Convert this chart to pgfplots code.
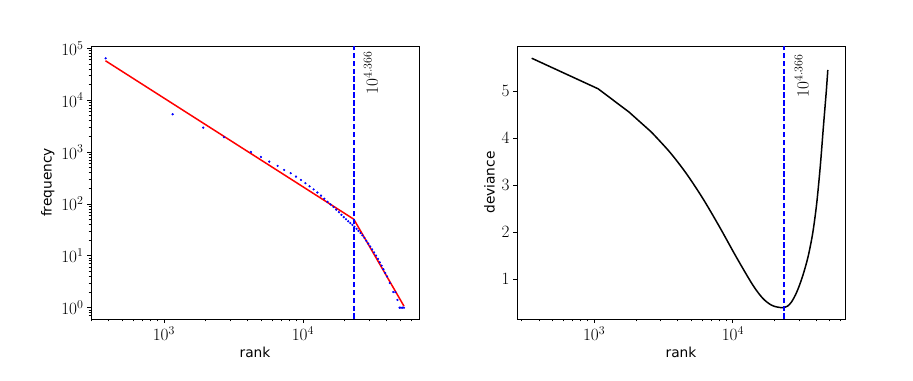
\documentclass[border=0pt]{standalone}
\usepackage{fontspec}
\newfontfamily\dejavu{DejaVu Sans}
\usepackage{pgfplots}
\pgfplotsset{compat=1.18}
\definecolor{vblue}{RGB}{0,0,255}
\definecolor{vred}{RGB}{255,0,0}

% rank vs frequency (sampled points)
\pgfplotstableread{
x y
381 64100
1156 5346
1919 2951
2704 1928
4227 1005
4989 805
5728 653
6577 540
7328 452
8166 391
8913 336
9683 290
10423 251.2
11169 218.8
11940 190.5
12706 166.0
13490 144.5
14256 125.9
15031 109.6
15812 97.7
16596 87.1
17378 77.6
18155 69.2
18923 61.7
19679 55.6
20417 50.7
21184 46.2
21928 42.7
22699 39.4
23496 36.3
24322 33.1
25119 30.2
25942 27.5
26792 24.8
27669 22.1
28576 19.5
29512 17.2
30479 15.1
31477 13.3
32509 11.6
33574 10.1
34674 8.71
35727 7.50
36813 6.46
37931 5.50
39084 4.68
40272 4.0
42170 3.0
44668 2.0
46238 2.0
47863 1.41
49545 1
50699 1
51880 1
53333 1
}\freqdata

% deviance, first part (with kinks)
\pgfplotstableread{
x y
355 5.70
1069 5.05
1786 4.555
2588 4.13
}\devdataA

% deviance, smooth part
\pgfplotstableread{
x y
2588 4.13
3508 3.706
4624 3.248
6081 2.718
8017 2.116
10570 1.479
13930 0.879
16440 0.597
18880 0.455
21000 0.41
22900 0.40
24800 0.43
26500 0.52
28300 0.67
30200 0.87
32500 1.15
35000 1.50
37670 1.98
40200 2.60
42700 3.40
45000 4.25
47200 5.00
48400 5.45
}\devdataB

\begin{document}
\begin{tikzpicture}
\path[use as bounding box] (0,0) rectangle (913bp,381bp);

\begin{axis}[scale only axis, width=328bp, height=273bp,
  at={(91bp,62bp)}, anchor=south west,
  xmode=log, ymode=log,
  xmin=299, xmax=68400,
  ymin=0.605, ymax=110700,
  axis line style={line width=0.8bp},
  tick align=outside,
  major tick length=4bp, minor tick length=2.5bp,
  every tick/.style={black, line width=0.7bp},
  xticklabel style={font=\fontsize{17}{19}\selectfont},
  yticklabel style={font=\fontsize{17}{19}\selectfont},
  xlabel style={font=\dejavu\fontsize{13.8}{16}\selectfont},
  ylabel style={font=\dejavu\fontsize{13.8}{16}\selectfont},
  xtick pos=bottom, ytick pos=left,
  xlabel={rank}, ylabel={frequency},
]
\addplot[only marks, mark=*, mark size=0.9bp, color=vblue, draw=none] table[x=x,y=y] {\freqdata};
\addplot[color=vred, line width=1.5bp, mark=none] coordinates {(380,57500) (23227,50.7) (53333,1.07)};
\addplot[color=vblue, line width=1.6bp, mark=none, dash pattern=on 5.5bp off 2.4bp] coordinates {(23227,0.605) (23227,110700)};
\node[rotate=90, anchor=north east, inner sep=0pt, font=\fontsize{17}{19}\selectfont]
  at ([xshift=10bp,yshift=-5bp]axis cs:23227,110700) {$10^{4.366}$};
\end{axis}

\begin{axis}[scale only axis, width=328bp, height=273bp,
  at={(517bp,62bp)}, anchor=south west,
  xmode=log, ymode=normal,
  xmin=278, xmax=64400,
  ymin=0.157, ymax=5.96,
  ytick={1,2,3,4,5},
  axis line style={line width=0.8bp},
  tick align=outside,
  major tick length=4bp, minor tick length=2.5bp,
  every tick/.style={black, line width=0.7bp},
  xticklabel style={font=\fontsize{17}{19}\selectfont},
  yticklabel style={font=\fontsize{17}{19}\selectfont},
  xlabel style={font=\dejavu\fontsize{13.8}{16}\selectfont},
  ylabel style={font=\dejavu\fontsize{13.8}{16}\selectfont},
  xtick pos=bottom, ytick pos=left,
  xlabel={rank}, ylabel={deviance},
]
\addplot[color=black, line width=1.5bp, mark=none] table[x=x,y=y] {\devdataA};
\addplot[color=black, line width=1.5bp, mark=none, smooth] table[x=x,y=y] {\devdataB};
\addplot[ycomb, draw=vblue, line width=2bp, mark=none, dash pattern=on 5.5bp off 2.4bp] coordinates {(23227,5.96)};
\node[rotate=90, anchor=north east, inner sep=0pt, font=\fontsize{17}{19}\selectfont]
  at ([xshift=11bp,yshift=-8bp]axis cs:23227,5.96) {$10^{4.366}$};
\end{axis}
\end{tikzpicture}
\end{document}
